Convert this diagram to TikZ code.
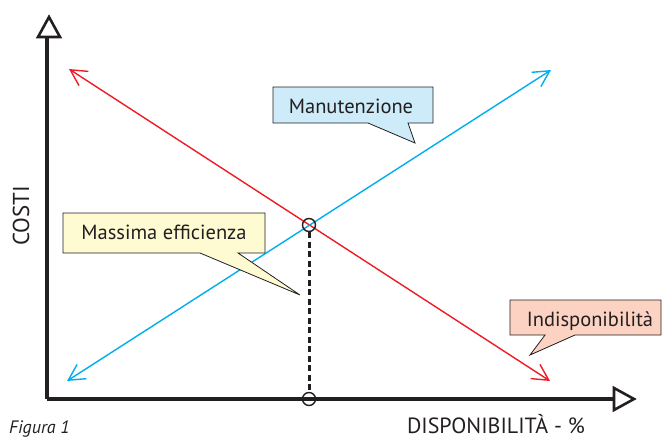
\documentclass[tikz,border=0pt]{standalone}
\usepackage{fontspec}
\setmainfont{PT Sans}
\usetikzlibrary{arrows.meta}
\definecolor{axisc}{HTML}{231F20}
\definecolor{redl}{HTML}{EE1C25}
\definecolor{bluel}{HTML}{00AEEF}
\definecolor{fblue}{HTML}{CDEBF9}
\definecolor{fyellow}{HTML}{FEFAD2}
\definecolor{fsalmon}{HTML}{FCD3C2}
\tikzset{
  axisline/.style={line width=4pt, draw=axisc},
  axishead/.style={line width=2.6pt, draw=axisc, fill=white, line join=miter},
  curve/.style={line width=1.4pt, {Straight Barb[length=16pt,width=17pt]}-{Straight Barb[length=16pt,width=17pt]}},
  callout/.style={draw=axisc, line width=0.8pt},
  ctext/.style={font=\fontsize{20.5}{24}\selectfont, text=axisc, inner sep=0pt, anchor=base},
  label/.style={font=\fontsize{23}{27}\selectfont, text=axisc, inner sep=0pt, anchor=base},
  mark circ/.style={circle, draw=axisc, line width=1.4pt, fill=none, minimum size=13pt, inner sep=0pt}
}
\begin{document}
\begin{tikzpicture}[x=1pt,y=-1pt]
\useasboundingbox (0,0) rectangle (664,439);
% axes
\coordinate (O) at (47,399);
\coordinate (Ytop) at (47,37);
\coordinate (Xend) at (614,399);
\draw[axisline] (O) -- (Ytop);
\draw[axisline] (O) -- (Xend);
\draw[axishead] (38,37) -- (49,17) -- (60,37) -- cycle;
\draw[axishead] (614,388) -- (634,399) -- (614,410) -- cycle;
% lines
\coordinate (R1) at (69,69);
\coordinate (R2) at (550,381);
\coordinate (B1) at (67,381);
\coordinate (B2) at (551,70);
\draw[curve, redl] (R1) -- (R2);
\draw[curve, bluel] (B1) -- (B2);
% markers
\node[mark circ] (P) at (309,225) {};
\node[mark circ] (Q) at (309,399) {};
\draw[axisc, line width=3pt, dash pattern=on 6pt off 3.5pt] (P.south) -- (Q.north);
% callouts
\draw[callout, fill=fblue] (273,87) -- (433,87) -- (433,123) -- (408,123) -- (415,143) -- (368,123) -- (273,123) -- cycle;
\node[ctext] (man) at (351,113) {Manutenzione};
\draw[callout, fill=fyellow] (63,213) -- (265,213) -- (265,253) -- (238,253) -- (300,295) -- (200,253) -- (63,253) -- cycle;
\node[ctext] (eff) at (164,239) {Massima efficienza};
\draw[callout, fill=fsalmon] (510,300) -- (661,300) -- (661,335) -- (575,335) -- (530,355) -- (545,335) -- (510,335) -- cycle;
\node[ctext] (ind) at (590,326) {Indisponibilità};
% labels
\node[label, rotate=90] (costi) at (29,216) {COSTI};
\node[label, font=\fontsize{22}{26}\selectfont] (disp) at (496,433) {DISPONIBILITÀ - \%};
\node[label, font=\itshape\fontsize{18}{22}\selectfont, anchor=base west] (fig) at (9,433) {Figura 1};
\end{tikzpicture}
\end{document}
